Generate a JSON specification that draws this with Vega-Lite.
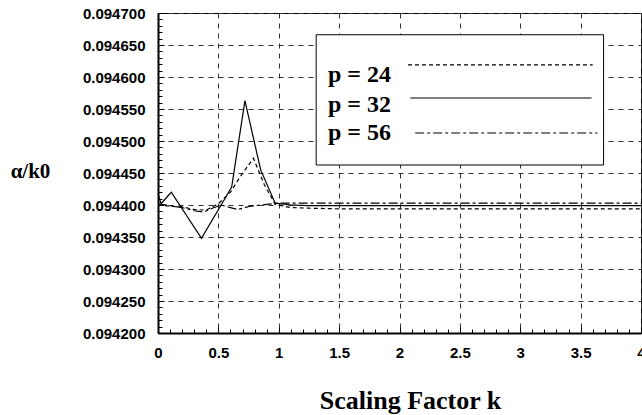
{
  "$schema": "https://vega.github.io/schema/vega-lite/v6.json",
  "width": 483,
  "height": 320,
  "autosize": "none",
  "padding": {"left": 158, "top": 13, "right": 1, "bottom": 82},
  "background": "white",
  "config": {
    "view": {"stroke": "black", "strokeWidth": 1},
    "axis": {
      "domainColor": "black",
      "domainWidth": 2,
      "tickColor": "black",
      "tickWidth": 1,
      "gridColor": "#333",
      "gridWidth": 1,
      "gridDash": [5, 5],
      "labelFont": "Liberation Sans",
      "labelFontWeight": "bold",
      "labelFontSize": 15,
      "labelColor": "black",
      "labelOverlap": false,
      "labelBound": false,
      "labelFlush": false,
      "titleColor": "black"
    }
  },
  "resolve": {"axis": {"x": "independent", "y": "independent"}},
  "datasets": {
    "curves": [
      {"p": "p = 24", "k": 0.0, "v": 0.094400},
      {"p": "p = 24", "k": 0.1, "v": 0.094398},
      {"p": "p = 24", "k": 0.2, "v": 0.094397},
      {"p": "p = 24", "k": 0.3, "v": 0.094393},
      {"p": "p = 24", "k": 0.4, "v": 0.094392},
      {"p": "p = 24", "k": 0.5, "v": 0.094402},
      {"p": "p = 24", "k": 0.6, "v": 0.094420},
      {"p": "p = 24", "k": 0.68, "v": 0.094444},
      {"p": "p = 24", "k": 0.79, "v": 0.094473},
      {"p": "p = 24", "k": 0.88, "v": 0.094432},
      {"p": "p = 24", "k": 0.97, "v": 0.094401},
      {"p": "p = 24", "k": 1.1, "v": 0.094396},
      {"p": "p = 24", "k": 1.25, "v": 0.094395},
      {"p": "p = 24", "k": 1.5, "v": 0.094394},
      {"p": "p = 24", "k": 2.0, "v": 0.094394},
      {"p": "p = 24", "k": 2.5, "v": 0.094394},
      {"p": "p = 24", "k": 3.0, "v": 0.094394},
      {"p": "p = 24", "k": 3.5, "v": 0.094394},
      {"p": "p = 24", "k": 4.0, "v": 0.094394},
      {"p": "p = 32", "k": 0.0, "v": 0.094418},
      {"p": "p = 32", "k": 0.025, "v": 0.094402},
      {"p": "p = 32", "k": 0.11, "v": 0.094420},
      {"p": "p = 32", "k": 0.36, "v": 0.094348},
      {"p": "p = 32", "k": 0.61, "v": 0.094428},
      {"p": "p = 32", "k": 0.72, "v": 0.094563},
      {"p": "p = 32", "k": 0.85, "v": 0.094455},
      {"p": "p = 32", "k": 0.97, "v": 0.094403},
      {"p": "p = 32", "k": 1.1, "v": 0.094400},
      {"p": "p = 32", "k": 1.25, "v": 0.094399},
      {"p": "p = 32", "k": 1.5, "v": 0.094399},
      {"p": "p = 32", "k": 2.0, "v": 0.094399},
      {"p": "p = 32", "k": 2.5, "v": 0.094399},
      {"p": "p = 32", "k": 3.0, "v": 0.094399},
      {"p": "p = 32", "k": 3.5, "v": 0.094399},
      {"p": "p = 32", "k": 4.0, "v": 0.094399},
      {"p": "p = 56", "k": 0.0, "v": 0.094402},
      {"p": "p = 56", "k": 0.1, "v": 0.094399},
      {"p": "p = 56", "k": 0.2, "v": 0.094396},
      {"p": "p = 56", "k": 0.3, "v": 0.094391},
      {"p": "p = 56", "k": 0.38, "v": 0.094389},
      {"p": "p = 56", "k": 0.45, "v": 0.094395},
      {"p": "p = 56", "k": 0.52, "v": 0.094400},
      {"p": "p = 56", "k": 0.6, "v": 0.094396},
      {"p": "p = 56", "k": 0.66, "v": 0.094393},
      {"p": "p = 56", "k": 0.76, "v": 0.094398},
      {"p": "p = 56", "k": 0.9, "v": 0.094401},
      {"p": "p = 56", "k": 1.0, "v": 0.094403},
      {"p": "p = 56", "k": 1.25, "v": 0.094403},
      {"p": "p = 56", "k": 1.5, "v": 0.094403},
      {"p": "p = 56", "k": 2.0, "v": 0.094403},
      {"p": "p = 56", "k": 2.5, "v": 0.094403},
      {"p": "p = 56", "k": 3.0, "v": 0.094403},
      {"p": "p = 56", "k": 3.5, "v": 0.094403},
      {"p": "p = 56", "k": 4.0, "v": 0.094403}
    ],
    "legend": [
      {"p": "p = 24"},
      {"p": "p = 32"},
      {"p": "p = 56"}
    ]
  },
  "layer": [
    {
      "data": {"name": "curves"},
      "mark": {"type": "line", "color": "black", "strokeWidth": 1.2},
      "encoding": {
        "x": {
          "field": "k",
          "type": "quantitative",
          "scale": {"domain": [0, 4], "nice": false, "zero": false},
          "axis": {
            "orient": "bottom",
            "title": "Scaling Factor k",
            "titleFont": "Liberation Serif",
            "titleFontWeight": "bold",
            "titleFontSize": 26,
            "titleX": 252,
            "titleY": 67,
            "titleAlign": "center",
            "titleBaseline": "middle",
            "values": [0, 0.5, 1, 1.5, 2, 2.5, 3, 3.5, 4],
            "labelExpr": "'' + datum.value",
            "labelOverlap": false,
            "labelPadding": 18,
            "tickSize": -6,
            "grid": true
          }
        },
        "y": {
          "field": "v",
          "type": "quantitative",
          "scale": {"domain": [0.0942, 0.0947], "nice": false, "zero": false},
          "axis": {
            "orient": "left",
            "title": "α/k0",
            "titleFont": "Liberation Serif",
            "titleFontWeight": "bold",
            "titleFontSize": 21,
            "titleAngle": 0,
            "titleX": -128,
            "titleY": 158,
            "titleAlign": "center",
            "titleBaseline": "middle",
            "values": [0.0942, 0.09425, 0.0943, 0.09435, 0.0944, 0.09445, 0.0945, 0.09455, 0.0946, 0.09465, 0.0947],
            "format": ".6f",
            "labelOverlap": false,
            "labelPadding": 19,
            "tickSize": -6,
            "grid": true
          }
        },
        "strokeDash": {
          "field": "p",
          "type": "nominal",
          "scale": {"domain": ["p = 24", "p = 32", "p = 56"], "range": [[4, 3], [1, 0], [9, 3, 3, 3]]},
          "legend": null
        }
      }
    },
    {
      "data": {"values": [{"item": "legend frame"}]},
      "mark": {"type": "rect", "fill": "white", "stroke": "black", "strokeWidth": 1},
      "encoding": {
        "x": {
          "datum": 1.31,
          "type": "quantitative",
          "axis": {
            "orient": "bottom",
            "title": null,
            "values": [0.1, 0.2, 0.3, 0.4, 0.6, 0.7, 0.8, 0.9, 1.1, 1.2, 1.3, 1.4, 1.6, 1.7, 1.8, 1.9, 2.1, 2.2, 2.3, 2.4, 2.6, 2.7, 2.8, 2.9, 3.1, 3.2, 3.3, 3.4, 3.6, 3.7, 3.8, 3.9],
            "labels": false,
            "grid": false,
            "domain": false,
            "tickSize": -4
          }
        },
        "x2": {"datum": 3.69},
        "y": {
          "datum": 0.094666,
          "type": "quantitative",
          "axis": {
            "orient": "left",
            "title": null,
            "values": [0.09421, 0.09422, 0.09423, 0.09424, 0.09426, 0.09427, 0.09428, 0.09429, 0.09431, 0.09432, 0.09433, 0.09434, 0.09436, 0.09437, 0.09438, 0.09439, 0.09441, 0.09442, 0.09443, 0.09444, 0.09446, 0.09447, 0.09448, 0.09449, 0.09451, 0.09452, 0.09453, 0.09454, 0.09456, 0.09457, 0.09458, 0.09459, 0.09461, 0.09462, 0.09463, 0.09464, 0.09466, 0.09467, 0.09468, 0.09469],
            "labels": false,
            "grid": false,
            "domain": false,
            "tickSize": -4
          }
        },
        "y2": {"datum": 0.0944625}
      }
    },
    {
      "data": {"name": "legend"},
      "transform": [{"filter": "datum.p == 'p = 24'"}],
      "mark": {"type": "text", "align": "left", "baseline": "alphabetic", "font": "Liberation Serif", "fontWeight": "bold", "fontSize": 24, "color": "black"},
      "encoding": {
        "x": {"datum": 1.408, "type": "quantitative", "axis": null},
        "y": {"datum": 0.094592, "type": "quantitative", "axis": null},
        "text": {"field": "p"}
      }
    },
    {
      "data": {"name": "legend"},
      "transform": [{"filter": "datum.p == 'p = 32'"}],
      "mark": {"type": "text", "align": "left", "baseline": "alphabetic", "font": "Liberation Serif", "fontWeight": "bold", "fontSize": 24, "color": "black"},
      "encoding": {
        "x": {"datum": 1.408, "type": "quantitative", "axis": null},
        "y": {"datum": 0.0945453, "type": "quantitative", "axis": null},
        "text": {"field": "p"}
      }
    },
    {
      "data": {"name": "legend"},
      "transform": [{"filter": "datum.p == 'p = 56'"}],
      "mark": {"type": "text", "align": "left", "baseline": "alphabetic", "font": "Liberation Serif", "fontWeight": "bold", "fontSize": 24, "color": "black"},
      "encoding": {
        "x": {"datum": 1.408, "type": "quantitative", "axis": null},
        "y": {"datum": 0.0945016, "type": "quantitative", "axis": null},
        "text": {"field": "p"}
      }
    },
    {
      "data": {"name": "legend"},
      "transform": [{"filter": "datum.p == 'p = 24'"}],
      "mark": {"type": "rule", "color": "black", "strokeWidth": 1.2, "strokeDash": [4, 3]},
      "encoding": {
        "x": {"datum": 2.07, "type": "quantitative", "axis": null},
        "x2": {"datum": 3.6},
        "y": {"datum": 0.0946188, "type": "quantitative", "axis": null}
      }
    },
    {
      "data": {"name": "legend"},
      "transform": [{"filter": "datum.p == 'p = 32'"}],
      "mark": {"type": "rule", "color": "black", "strokeWidth": 1.2},
      "encoding": {
        "x": {"datum": 2.09, "type": "quantitative", "axis": null},
        "x2": {"datum": 3.59},
        "y": {"datum": 0.0945672, "type": "quantitative", "axis": null}
      }
    },
    {
      "data": {"name": "legend"},
      "transform": [{"filter": "datum.p == 'p = 56'"}],
      "mark": {"type": "rule", "color": "black", "strokeWidth": 1.2, "strokeDash": [9, 3, 3, 3]},
      "encoding": {
        "x": {"datum": 2.13, "type": "quantitative", "axis": null},
        "x2": {"datum": 3.64},
        "y": {"datum": 0.0945125, "type": "quantitative", "axis": null}
      }
    }
  ]
}
